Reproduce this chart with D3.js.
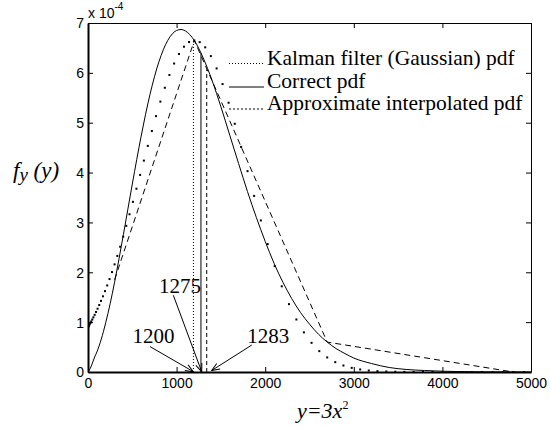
<!DOCTYPE html>
<html><head><meta charset="utf-8">
<script src="https://cdn.jsdelivr.net/npm/d3@7"></script>
<style>
html,body{margin:0;padding:0;background:#fff;}
svg{display:block;}
</style>
</head><body>
<svg id="chart" width="550" height="430"></svg>
<script>
// ---------- data (pdf values in units of 1e-4) ----------
const xTicks = [0, 1000, 2000, 3000, 4000, 5000];
const yTicks = [0, 1, 2, 3, 4, 5, 6, 7];
const yExponentLabel = "x 10";
const yExponent = "-4";

const kalmanY = [0,0.75,3,6.75,12,18.75,27,36.75,48,60.75,75,90.75,108,126.75,147,168.75,192,216.75,243,270.75,300,330.75,363,396.75,432,468.75,507,546.75,588,630.75,675,720.75,768,816.75,867,918.75,972,1026.75,1083,1140.75,1200,1260.75,1323,1386.75,1452,1518.75,1587,1656.75,1728,1800.75,1875,1950.75,2028,2106.75,2187,2268.75,2352,2436.75,2523,2610.75,2700,2790.75,2883,2976.75,3072,3168.75,3267,3366.75,3468,3570.75,3675,3780.75,3888,3996.75,4107,4218.75,4332,4446.75,4563,4680.75,4800,4920.75];
const kalmanF = [0.900,0.902,0.909,0.920,0.936,0.958,0.984,1.015,1.053,1.097,1.147,1.204,1.269,1.343,1.426,1.518,1.622,1.736,1.864,2.004,2.159,2.328,2.513,2.714,2.931,3.164,3.413,3.676,3.953,4.240,4.535,4.834,5.132,5.423,5.701,5.958,6.187,6.379,6.525,6.618,6.650,6.616,6.512,6.336,6.089,5.775,5.401,4.978,4.515,4.029,3.532,3.040,2.566,2.123,1.719,1.361,1.053,0.795,0.585,0.419,0.292,0.198,0.130,0.083,0.051,0.030,0.018,0.010,0.005,0.003,0.001,0.001,0,0,0,0,0,0,0,0,0,0];

const correctY = [0,25,50,75,100,150,200,250,300,350,400,500,600,700,800,900,1000,1050,1100,1200,1300,1400,1500,1600,1700,1800,1900,2000,2100,2200,2300,2400,2500,2600,2700,2800,2900,3000,3200,3400,3600,3800,4000,4200,4500,5000];
const correctF = [0,0.07,0.18,0.30,0.40,0.66,0.99,1.37,1.80,2.27,2.76,3.77,4.73,5.57,6.22,6.65,6.85,6.87,6.84,6.65,6.30,5.85,5.32,4.75,4.18,3.62,3.10,2.62,2.18,1.80,1.47,1.19,0.96,0.76,0.60,0.47,0.37,0.28,0.17,0.09,0.05,0.03,0.016,0.008,0.003,0.001];

const approxY = [300, 1200, 2700, 4800];
const approxF = [1.85, 6.65, 0.60, 0.0];

// vertical mean markers (Kalman, correct, approximate)
const meanX   = [1190, 1275, 1340];
const meanTop = [6.65, 6.40, 6.07];
const meanLabels = ["1200", "1275", "1283"];

const legendLabels = ["Kalman filter (Gaussian) pdf", "Correct pdf", "Approximate interpolated pdf"];
const xAxisLabel = ["y=3x", "2"];
const yAxisLabel = ["f", "y", " (y)"];

// ---------- layout ----------
const svg = d3.select("#chart");
const L = 88, R = 531, T = 23, B = 372;
const x = d3.scaleLinear().domain([0, 5000]).range([L, R]);
const y = d3.scaleLinear().domain([0, 7]).range([B, T]);
const sans = "'Liberation Sans', Arial, Helvetica, sans-serif";
const serif = "'Liberation Serif', 'Times New Roman', Times, serif";

// markers
const defs = svg.append("defs");
defs.append("marker").attr("id","arr").attr("viewBox","-10 -5 12 10")
  .attr("refX",0).attr("refY",0).attr("markerWidth",12).attr("markerHeight",10)
  .attr("markerUnits","userSpaceOnUse").attr("orient","auto")
  .append("path").attr("d","M-8,-3.2 L0,0 L-8,3.2").attr("fill","none")
  .attr("stroke","#000").attr("stroke-width",1);

// axes
const gx = svg.append("g").attr("transform",`translate(0,${B})`)
  .call(d3.axisBottom(x).tickValues(xTicks).tickSizeInner(-5).tickSizeOuter(0).tickPadding(5).tickFormat(d3.format("d")));
const gxt = svg.append("g").attr("transform",`translate(0,${T})`)
  .call(d3.axisTop(x).tickValues(xTicks).tickSizeInner(-5).tickSizeOuter(0).tickFormat(""));
const gy = svg.append("g").attr("transform",`translate(${L},0)`)
  .call(d3.axisLeft(y).tickValues(yTicks).tickSizeInner(-5).tickSizeOuter(0).tickPadding(4).tickFormat(d3.format("d")));
const gyr = svg.append("g").attr("transform",`translate(${R},0)`)
  .call(d3.axisRight(y).tickValues(yTicks).tickSizeInner(-5).tickSizeOuter(0).tickFormat(""));
[gx,gxt,gy,gyr].forEach(g=>{
  g.selectAll("text").attr("font-family",sans).attr("font-size",14).attr("fill","#000");
  g.selectAll("line").attr("stroke","#000");
});
gx.select(".domain").attr("stroke","#000").attr("stroke-width",2);
gy.select(".domain").attr("stroke","#000").attr("stroke-width",2);
gxt.select(".domain").attr("stroke","#000").attr("stroke-width",1);
gyr.select(".domain").attr("stroke","#000").attr("stroke-width",1);
gx.selectAll(".tick text").attr("dy","0.8em");
gy.selectAll(".tick text").attr("dy","0.35em");

// exponent label
const ex = svg.append("text").attr("x",L).attr("y",18).attr("font-family",sans).attr("font-size",14);
ex.append("tspan").text(yExponentLabel);
ex.append("tspan").attr("dy",-8).attr("font-size",10).text(yExponent);

// clip
defs.append("clipPath").attr("id","clip").append("rect").attr("x",L).attr("y",T-8).attr("width",R-L).attr("height",B-T+8);
const plot = svg.append("g").attr("clip-path","url(#clip)");

// correct pdf (solid)
const correctData = d3.zip(correctY, correctF);
plot.append("path").datum(correctData)
  .attr("d", d3.line().x(d=>x(d[0])).y(d=>y(d[1])).curve(d3.curveMonotoneX))
  .attr("fill","none").attr("stroke","#000").attr("stroke-width",1);

// approximate interpolated pdf (dashed)
const approxData = d3.zip(approxY, approxF);
plot.append("path").datum(approxData)
  .attr("d", d3.line().x(d=>x(d[0])).y(d=>y(d[1])))
  .attr("fill","none").attr("stroke","#000").attr("stroke-width",1).attr("stroke-dasharray","6,4");

// Kalman Gaussian pdf (dots)
const kalmanData = d3.zip(kalmanY, kalmanF);
plot.selectAll("rect.kal").data(kalmanData).join("rect").attr("class","kal")
  .attr("x",d=>x(d[0])-1).attr("y",d=>y(d[1])-1).attr("width",2).attr("height",2).attr("fill","#000");

// vertical mean lines
const vStyles = ["1,2", null, "4,3"];
meanX.forEach((m,i)=>{
  const ln = svg.append("line").attr("x1",x(m)).attr("x2",x(m)).attr("y1",y(0)).attr("y2",y(meanTop[i]))
    .attr("stroke","#000").attr("stroke-width",1);
  if (vStyles[i]) ln.attr("stroke-dasharray",vStyles[i]);
});

// annotations: [text x, text baseline f, arrow start x, start f, arrow end x, end f] in data space
const annPos = [
  [738, 0.575, 700, 0.51, 1189, 0.006],
  [1038, 1.59, 963, 1.54, 1283, 0.006],
  [2035, 0.575, 1848, 0.54, 1396, 0.03]
];
meanLabels.forEach((lab,i)=>{
  const p = annPos[i];
  svg.append("text").attr("x",x(p[0])).attr("y",y(p[1])).attr("text-anchor","middle")
    .attr("font-family",serif).attr("font-size",21).text(lab);
  svg.append("line").attr("x1",x(p[2])).attr("y1",y(p[3])).attr("x2",x(p[4])).attr("y2",y(p[5]))
    .attr("stroke","#000").attr("stroke-width",1).attr("marker-end","url(#arr)");
});

// legend
const legStyles = ["1,2", null, "2,2"];
const legLineY = [63.5, 87, 109];
const legTextY = [65, 87.5, 110];
legendLabels.forEach((lab,i)=>{
  const ln = svg.append("line").attr("x1",229).attr("x2",264).attr("y1",legLineY[i]).attr("y2",legLineY[i])
    .attr("stroke","#000").attr("stroke-width",1);
  if (legStyles[i]) ln.attr("stroke-dasharray",legStyles[i]);
  svg.append("text").attr("x",267).attr("y",legTextY[i]).attr("font-family",serif).attr("font-size",21.5).text(lab);
});

// axis labels
const xl = svg.append("text").attr("x",297).attr("y",418).attr("font-family",serif).attr("font-size",22).attr("font-style","italic");
xl.append("tspan").text(xAxisLabel[0]);
xl.append("tspan").attr("dy",-9).attr("font-size",12).attr("font-style","normal").text(xAxisLabel[1]);

const yl = svg.append("text").attr("x",13).attr("y",178).attr("font-family",serif).attr("font-size",23).attr("font-style","italic");
yl.append("tspan").text(yAxisLabel[0]);
yl.append("tspan").attr("dy",3).attr("font-size",19).text(yAxisLabel[1]);
yl.append("tspan").attr("dy",-3).text(yAxisLabel[2]);
</script>
</body></html>
